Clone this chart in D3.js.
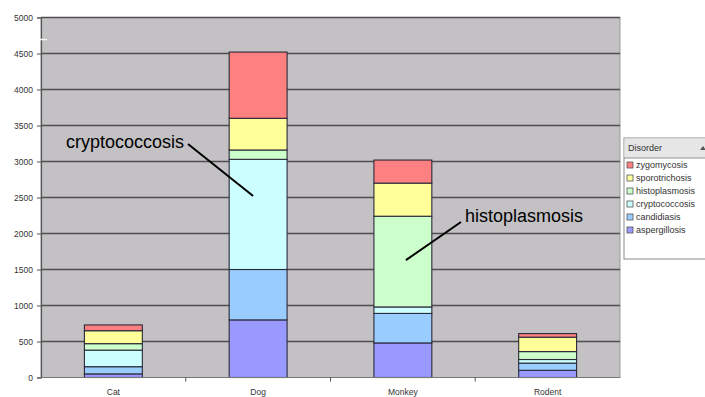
<!DOCTYPE html>
<html>
<head>
<meta charset="utf-8">
<script src="https://cdn.jsdelivr.net/npm/d3@7"></script>
<style>
  html, body { margin: 0; padding: 0; background: #fff; }
  svg { display: block; font-family: Arial, "Liberation Sans", sans-serif; }
</style>
</head>
<body>
<svg id="chart" width="705" height="397"></svg>
<script>
// Animal hosts on the category axis
const categories = ["Cat", "Dog", "Monkey", "Rodent"];

// Disorders, stacked from the bottom up
const disorders = ["aspergillosis", "candidiasis", "cryptococcosis", "histoplasmosis", "sporotrichosis", "zygomycosis"];

// Case counts per disorder, one entry per animal (Cat, Dog, Monkey, Rodent)
const aspergillosis  = [50, 800, 480, 100];
const candidiasis    = [100, 700, 410, 100];
const cryptococcosis = [230, 1530, 90, 50];
const histoplasmosis = [90, 130, 1260, 110];
const sporotrichosis = [180, 440, 460, 200];
const zygomycosis    = [80, 920, 320, 50];

const yTicks = [0, 500, 1000, 1500, 2000, 2500, 3000, 3500, 4000, 4500, 5000];

const colors = {
  aspergillosis: "#9999ff",
  candidiasis: "#99ccff",
  cryptococcosis: "#ccffff",
  histoplasmosis: "#ccffcc",
  sporotrichosis: "#ffff99",
  zygomycosis: "#ff8080"
};

const series = { aspergillosis, candidiasis, cryptococcosis, histoplasmosis, sporotrichosis, zygomycosis };

const rows = categories.map((c, i) => {
  const r = { category: c };
  disorders.forEach(d => { r[d] = series[d][i]; });
  return r;
});

const svg = d3.select("#chart");
const plot = { left: 41, right: 620, top: 17.5, bottom: 377.5 };

const x = d3.scaleBand().domain(categories).range([plot.left, plot.right]).padding(0);
const y = d3.scaleLinear().domain([0, 5000]).range([plot.bottom, plot.top]);

// Plot area background
svg.append("rect")
  .attr("x", plot.left).attr("y", plot.top)
  .attr("width", plot.right - plot.left).attr("height", plot.bottom - plot.top)
  .attr("fill", "#c3c1c4")
  .attr("stroke", "#9a9a9a").attr("stroke-width", 1);

// Horizontal gridlines
svg.append("g").selectAll("line")
  .data(yTicks.filter(t => t > 0))
  .join("line")
  .attr("x1", plot.left).attr("x2", plot.right)
  .attr("y1", d => y(d)).attr("y2", d => y(d))
  .attr("stroke", "#4e4e4e").attr("stroke-width", 1.4);

// Stacked bars
const stacked = d3.stack().keys(disorders)(rows);
const bw = x.bandwidth();

svg.append("g").selectAll("g")
  .data(stacked)
  .join("g")
  .attr("fill", d => colors[d.key])
  .selectAll("rect")
  .data(d => d)
  .join("rect")
  .attr("x", d => x(d.data.category) + bw * 0.3)
  .attr("width", bw * 0.4)
  .attr("y", d => y(d[1]))
  .attr("height", d => y(d[0]) - y(d[1]))
  .attr("stroke", "#2a2a3a").attr("stroke-width", 1.1);

// Y axis
const yAxis = d3.axisLeft(y).tickValues(yTicks).tickSize(4).tickPadding(4).tickFormat(d3.format("d"));
const gy = svg.append("g").attr("transform", `translate(${plot.left},0)`).call(yAxis);
gy.select(".domain").attr("stroke", "#555").attr("stroke-width", 1.2);
gy.selectAll(".tick line").attr("stroke", "#555");
gy.selectAll(".tick text").attr("fill", "#333").style("font-size", "8.5px");

// X axis with ticks between categories
const gx = svg.append("g").attr("transform", `translate(0,${plot.bottom})`);
gx.append("line").attr("x1", plot.left).attr("x2", plot.right)
  .attr("stroke", "#777").attr("stroke-width", 1.2);
gx.selectAll("line.sep")
  .data(categories.slice(1))
  .join("line").attr("class", "sep")
  .attr("x1", d => x(d)).attr("x2", d => x(d))
  .attr("y1", 0).attr("y2", 4)
  .attr("stroke", "#555");
gx.selectAll("text")
  .data(categories)
  .join("text")
  .attr("x", d => x(d) + bw / 2)
  .attr("y", 17)
  .attr("text-anchor", "middle")
  .attr("fill", "#333")
  .style("font-size", "8.5px")
  .text(d => d);

// Small white mark on the value axis
svg.append("line").attr("x1", 40).attr("x2", 47).attr("y1", 39.5).attr("y2", 39.5)
  .attr("stroke", "#f4f4f4").attr("stroke-width", 1.5);

// Callout labels pointing into the bars
const callouts = [
  { text: "cryptococcosis", category: "Dog", value: 2520, tx: 66, ty: 148, lx: 188, ly: 144, dx: -5 },
  { text: "histoplasmosis", category: "Monkey", value: 1630, tx: 465, ty: 222, lx: 461, ly: 222, dx: 3 }
];
callouts.forEach(c => {
  svg.append("line")
    .attr("x1", c.lx).attr("y1", c.ly)
    .attr("x2", x(c.category) + bw / 2 + c.dx).attr("y2", y(c.value))
    .attr("stroke", "#000").attr("stroke-width", 2);
  svg.append("text")
    .attr("x", c.tx).attr("y", c.ty)
    .attr("fill", "#000")
    .style("font-size", "18px")
    .text(c.text);
});

// Legend
const lg = svg.append("g").attr("transform", "translate(624,138)");
lg.append("rect").attr("width", 100).attr("height", 121)
  .attr("fill", "#fff").attr("stroke", "#8a8a8a");
lg.append("rect").attr("x", 0.5).attr("y", 0.5).attr("width", 99).attr("height", 19)
  .attr("fill", "#e6e6e6");
lg.append("line").attr("x1", 0).attr("x2", 100).attr("y1", 20).attr("y2", 20)
  .attr("stroke", "#8a8a8a");
lg.append("text").attr("x", 4).attr("y", 13).attr("fill", "#333")
  .style("font-size", "9px").text("Disorder");
lg.append("path").attr("d", "M76,12 l3,-4 l3,4 z").attr("fill", "#555");

const legendItems = disorders.slice().reverse();
const li = lg.selectAll("g.item").data(legendItems).join("g")
  .attr("class", "item")
  .attr("transform", (d, i) => `translate(0,${27 + i * 13})`);
li.append("rect").attr("x", 3).attr("y", -3).attr("width", 6).attr("height", 6)
  .attr("fill", d => colors[d]).attr("stroke", "#555").attr("stroke-width", 0.8);
li.append("text").attr("x", 12).attr("y", 3).attr("fill", "#333")
  .style("font-size", "9px").text(d => d);
</script>
</body>
</html>
